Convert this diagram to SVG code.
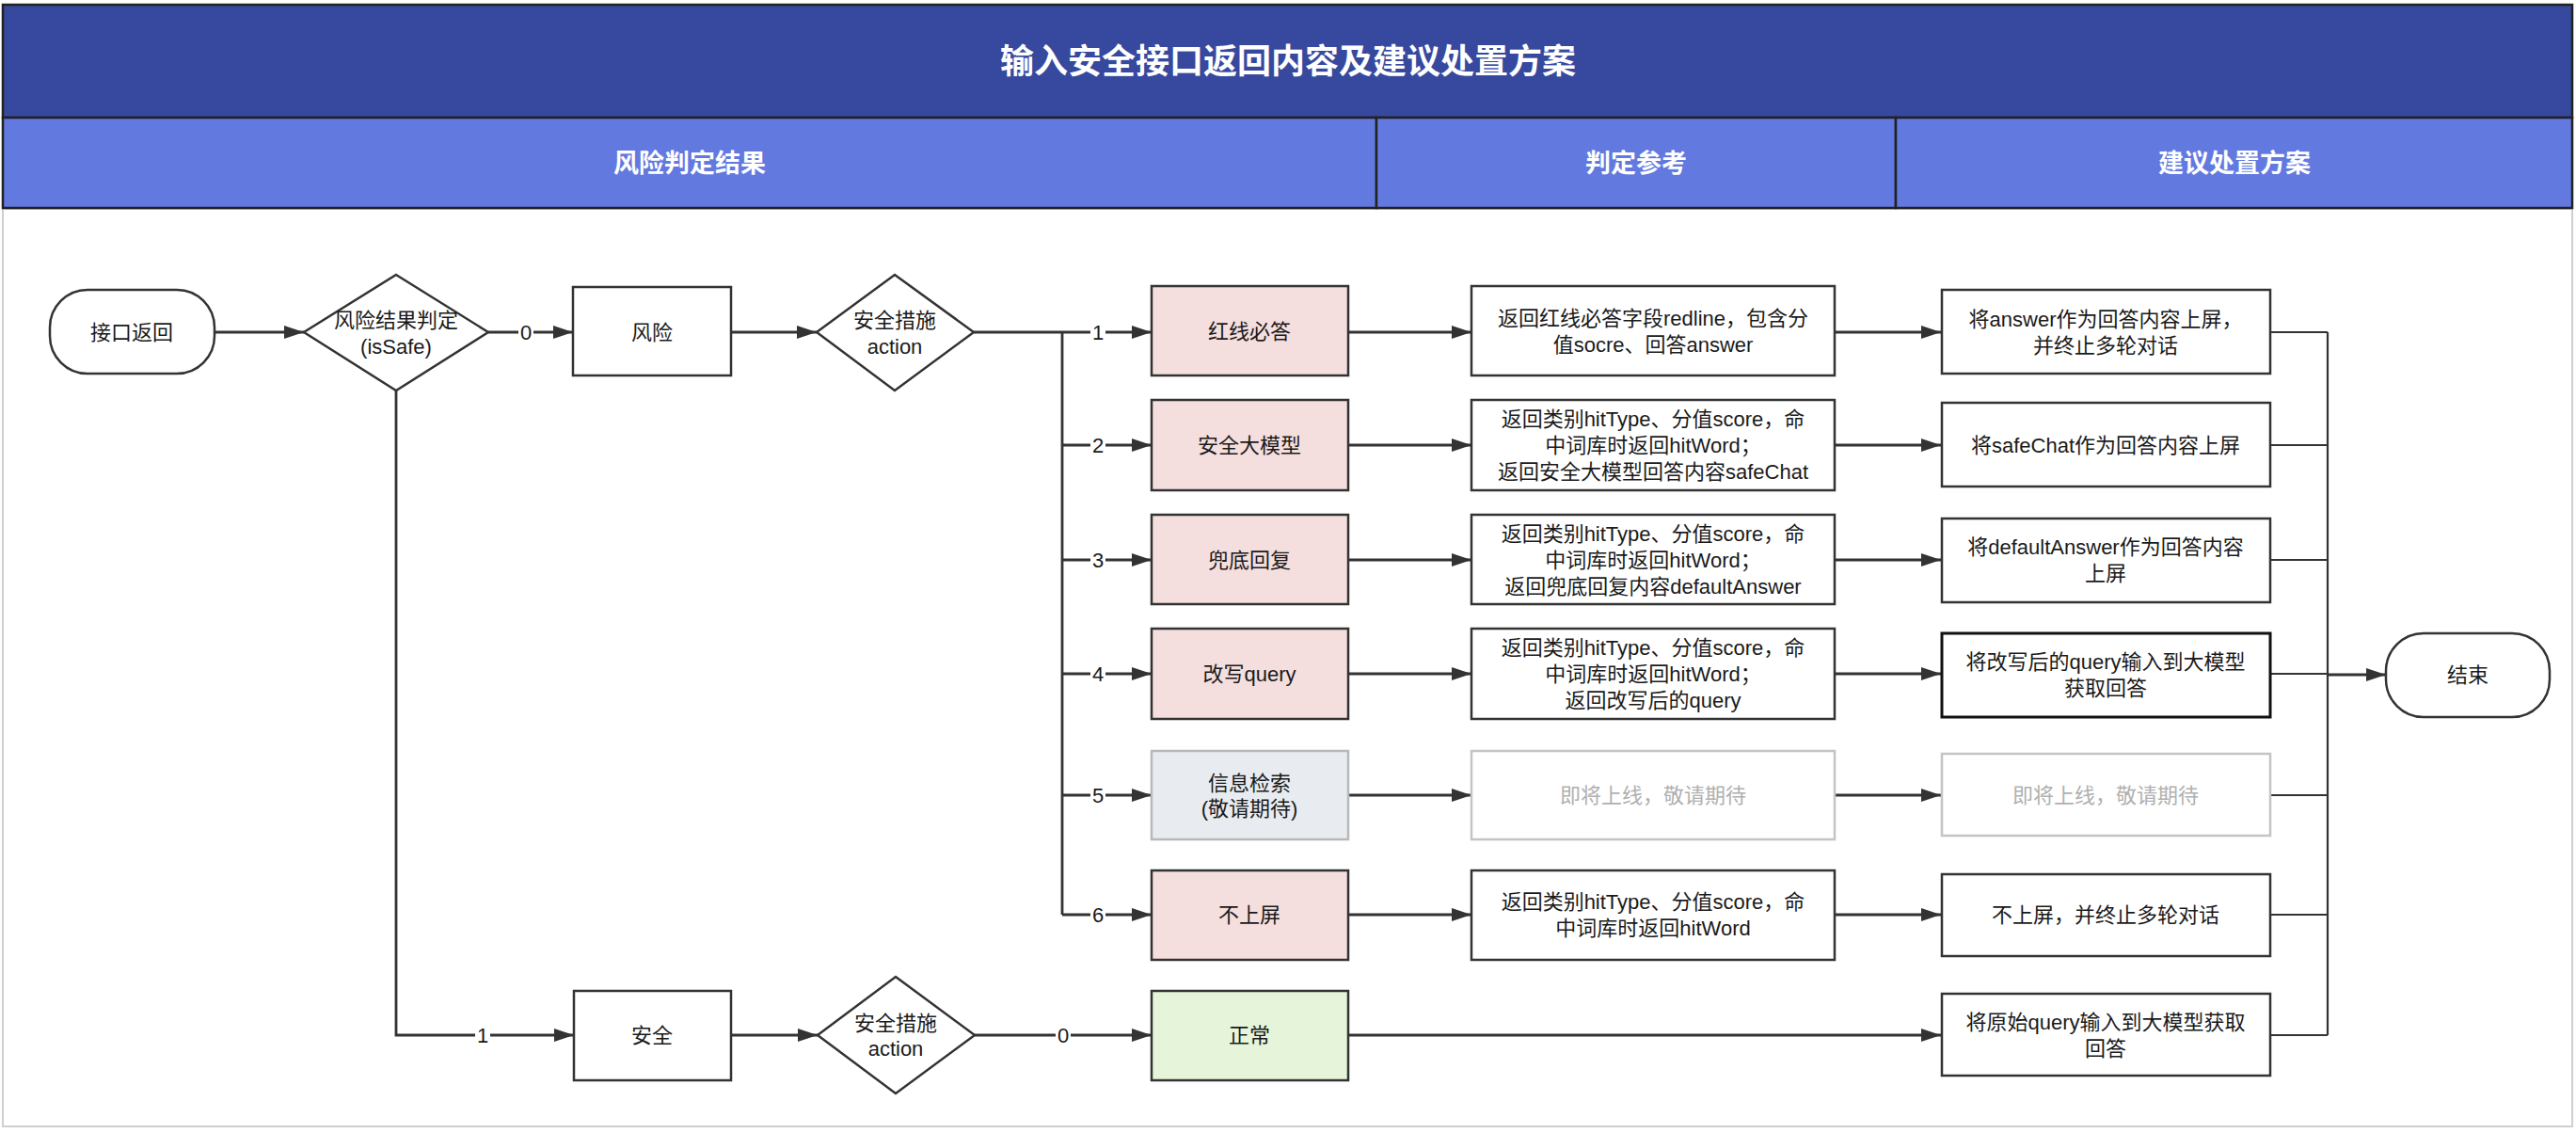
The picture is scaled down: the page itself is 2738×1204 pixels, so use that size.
<svg xmlns="http://www.w3.org/2000/svg" width="2738" height="1204" viewBox="0 0 2738 1204">
<style>
text{font-family:"Liberation Sans","Noto Sans CJK SC",sans-serif;fill:#1a1a1a;text-anchor:middle;dominant-baseline:central}
.t{font-size:36px;font-weight:bold;fill:#fff}
.h{font-size:27px;font-weight:bold;fill:#fff}
.n{font-size:22px}
.g{fill:#b0b0b0}
.box{fill:#fff;stroke:#333;stroke-width:2.5}
.pink{fill:#f5dede;stroke:#333;stroke-width:2.5}
.grey{fill:#e8ecf0;stroke:#b8b8b8;stroke-width:2.5}
.gbox{fill:#fff;stroke:#c4c4c4;stroke-width:2.5}
.green{fill:#e6f5da;stroke:#333;stroke-width:2.5}
.ln{fill:none;stroke:#333;stroke-width:2.8}
.thin{fill:none;stroke:#333;stroke-width:2.2}
.lbl{font-size:22px}
.lb{fill:#fff}
</style>
<defs>
<marker id="a" viewBox="0 0 21 14" refX="21" refY="7" markerWidth="21" markerHeight="14" orient="auto" markerUnits="userSpaceOnUse">
<path d="M0,0 L21,7 L0,14 z" fill="#333"/>
</marker>
</defs>
<rect width="2738" height="1204" fill="#fff"/>
<g id="frame">
<rect x="3" y="222" width="2731" height="975" fill="#fff" stroke="#cfcfcf" stroke-width="2"/>
<rect x="3" y="5" width="2731" height="120" fill="#36499e" stroke="#222" stroke-width="2.5"/>
<text class="t" x="1369" y="65">输入安全接口返回内容及建议处置方案</text>
<rect x="3" y="125" width="1460" height="96" fill="#6279e0" stroke="#222" stroke-width="2.5"/>
<rect x="1463" y="125" width="552" height="96" fill="#6279e0" stroke="#222" stroke-width="2.5"/>
<rect x="2015" y="125" width="719" height="96" fill="#6279e0" stroke="#222" stroke-width="2.5"/>
<text class="h" x="733" y="174">风险判定结果</text>
<text class="h" x="1739" y="174">判定参考</text>
<text class="h" x="2375" y="174">建议处置方案</text>
</g>
<g id="connectors">
<path class="ln" d="M228,353 H323" marker-end="url(#a)"/>
<path class="ln" d="M519,353 H609" marker-end="url(#a)"/>
<path class="ln" d="M777,353 H868" marker-end="url(#a)"/>
<path class="ln" d="M1035,353 H1224" marker-end="url(#a)"/>
<path class="ln" d="M1129,353 V972"/>
<path class="ln" d="M1129,473 H1224" marker-end="url(#a)"/>
<path class="ln" d="M1129,595 H1224" marker-end="url(#a)"/>
<path class="ln" d="M1129,716 H1224" marker-end="url(#a)"/>
<path class="ln" d="M1129,845 H1224" marker-end="url(#a)"/>
<path class="ln" d="M1129,972 H1224" marker-end="url(#a)"/>
<path class="ln" d="M421,415 V1100 H610" marker-end="url(#a)"/>
<path class="ln" d="M777,1100 H869" marker-end="url(#a)"/>
<path class="ln" d="M1036,1100 H1224" marker-end="url(#a)"/>
<path class="ln" d="M1433,353 H1564" marker-end="url(#a)"/>
<path class="ln" d="M1433,473 H1564" marker-end="url(#a)"/>
<path class="ln" d="M1433,595 H1564" marker-end="url(#a)"/>
<path class="ln" d="M1433,716 H1564" marker-end="url(#a)"/>
<path class="ln" d="M1433,845 H1564" marker-end="url(#a)"/>
<path class="ln" d="M1433,972 H1564" marker-end="url(#a)"/>
<path class="ln" d="M1433,1100 H2063" marker-end="url(#a)"/>
<path class="ln" d="M1950,353 H2063" marker-end="url(#a)"/>
<path class="ln" d="M1950,473 H2063" marker-end="url(#a)"/>
<path class="ln" d="M1950,595 H2063" marker-end="url(#a)"/>
<path class="ln" d="M1950,716 H2063" marker-end="url(#a)"/>
<path class="ln" d="M1950,845 H2063" marker-end="url(#a)"/>
<path class="ln" d="M1950,972 H2063" marker-end="url(#a)"/>
<path class="thin" d="M2413,353 H2474 M2413,473 H2474 M2413,595 H2474 M2413,716 H2474 M2413,845 H2474 M2413,972 H2474 M2413,1100 H2474 M2474,353 V1100"/>
<path class="ln" d="M2474,717 H2536" marker-end="url(#a)"/>
<g>
<rect class="lb" x="551" y="340" width="16" height="26"/><text class="lbl" x="559" y="353">0</text>
<rect class="lb" x="1159" y="340" width="16" height="26"/><text class="lbl" x="1167" y="353">1</text>
<rect class="lb" x="1159" y="460" width="16" height="26"/><text class="lbl" x="1167" y="473">2</text>
<rect class="lb" x="1159" y="582" width="16" height="26"/><text class="lbl" x="1167" y="595">3</text>
<rect class="lb" x="1159" y="703" width="16" height="26"/><text class="lbl" x="1167" y="716">4</text>
<rect class="lb" x="1159" y="832" width="16" height="26"/><text class="lbl" x="1167" y="845">5</text>
<rect class="lb" x="1159" y="959" width="16" height="26"/><text class="lbl" x="1167" y="972">6</text>
<rect class="lb" x="505" y="1087" width="16" height="26"/><text class="lbl" x="513" y="1100">1</text>
<rect class="lb" x="1122" y="1087" width="16" height="26"/><text class="lbl" x="1130" y="1100">0</text>
</g>
</g>
<g id="start"><rect class="box" x="53" y="308" width="175" height="89" rx="40" ry="40"/><text class="n" x="140" y="353">接口返回</text></g>
<g id="isSafe"><path class="box" d="M421,292 L519,353 L421,415 L323,353 z"/><text class="n" x="421" y="340">风险结果判定</text><text class="n" x="421" y="368">(isSafe)</text></g>
<g id="risk"><rect class="box" x="609" y="305" width="168" height="94"/><text class="n" x="693" y="353">风险</text></g>
<g id="action1"><path class="box" d="M951,292 L1035,353 L951,415 L868,353 z"/><text class="n" x="951" y="340">安全措施</text><text class="n" x="951" y="368">action</text></g>
<g id="safe"><rect class="box" x="610" y="1053" width="167" height="95"/><text class="n" x="693" y="1100">安全</text></g>
<g id="action2"><path class="box" d="M952,1038 L1036,1100 L952,1162 L869,1100 z"/><text class="n" x="952" y="1087">安全措施</text><text class="n" x="952" y="1114">action</text></g>
<g id="p1"><rect class="pink" x="1224" y="304" width="209" height="95"/><text class="n" x="1328" y="352">红线必答</text></g>
<g id="p2"><rect class="pink" x="1224" y="425" width="209" height="96"/><text class="n" x="1328" y="473">安全大模型</text></g>
<g id="p3"><rect class="pink" x="1224" y="547" width="209" height="95"/><text class="n" x="1328" y="595">兜底回复</text></g>
<g id="p4"><rect class="pink" x="1224" y="668" width="209" height="96"/><text class="n" x="1328" y="716">改写query</text></g>
<g id="p5"><rect class="grey" x="1224" y="798" width="209" height="94"/><text class="n" x="1328" y="832">信息检索</text><text class="n" x="1328" y="859">(敬请期待)</text></g>
<g id="p6"><rect class="pink" x="1224" y="925" width="209" height="95"/><text class="n" x="1328" y="972">不上屏</text></g>
<g id="p7"><rect class="green" x="1224" y="1053" width="209" height="95"/><text class="n" x="1328" y="1100">正常</text></g>
<g id="r1"><rect class="box" x="1564" y="304" width="386" height="95"/><text class="n" x="1757" y="338">返回红线必答字段redline，包含分</text><text class="n" x="1757" y="366">值socre、回答answer</text></g>
<g id="r2"><rect class="box" x="1564" y="425" width="386" height="96"/><text class="n" x="1757" y="445">返回类别hitType、分值score，命</text><text class="n" x="1757" y="473">中词库时返回hitWord；</text><text class="n" x="1757" y="501">返回安全大模型回答内容safeChat</text></g>
<g id="r3"><rect class="box" x="1564" y="547" width="386" height="95"/><text class="n" x="1757" y="567">返回类别hitType、分值score，命</text><text class="n" x="1757" y="595">中词库时返回hitWord；</text><text class="n" x="1757" y="623">返回兜底回复内容defaultAnswer</text></g>
<g id="r4"><rect class="box" x="1564" y="668" width="386" height="96"/><text class="n" x="1757" y="688">返回类别hitType、分值score，命</text><text class="n" x="1757" y="716">中词库时返回hitWord；</text><text class="n" x="1757" y="744">返回改写后的query</text></g>
<g id="r5"><rect class="gbox" x="1564" y="798" width="386" height="94"/><text class="n g" x="1757" y="845">即将上线，敬请期待</text></g>
<g id="r6"><rect class="box" x="1564" y="925" width="386" height="95"/><text class="n" x="1757" y="958">返回类别hitType、分值score，命</text><text class="n" x="1757" y="986">中词库时返回hitWord</text></g>
<g id="s1"><rect class="box" x="2064" y="308" width="349" height="89"/><text class="n" x="2238" y="339">将answer作为回答内容上屏，</text><text class="n" x="2238" y="367">并终止多轮对话</text></g>
<g id="s2"><rect class="box" x="2064" y="428" width="349" height="89"/><text class="n" x="2238" y="473">将safeChat作为回答内容上屏</text></g>
<g id="s3"><rect class="box" x="2064" y="551" width="349" height="89"/><text class="n" x="2238" y="581">将defaultAnswer作为回答内容</text><text class="n" x="2238" y="609">上屏</text></g>
<g id="s4"><rect class="box" x="2064" y="673" width="349" height="89" style="stroke:#111;stroke-width:3"/><text class="n" x="2238" y="703">将改写后的query输入到大模型</text><text class="n" x="2238" y="731">获取回答</text></g>
<g id="s5"><rect class="gbox" x="2064" y="801" width="349" height="87"/><text class="n g" x="2238" y="845">即将上线，敬请期待</text></g>
<g id="s6"><rect class="box" x="2064" y="929" width="349" height="87"/><text class="n" x="2238" y="972">不上屏，并终止多轮对话</text></g>
<g id="s7"><rect class="box" x="2064" y="1056" width="349" height="87"/><text class="n" x="2238" y="1086">将原始query输入到大模型获取</text><text class="n" x="2238" y="1114">回答</text></g>
<g id="end"><rect class="box" x="2536" y="673" width="174" height="89" rx="40" ry="40"/><text class="n" x="2623" y="717">结束</text></g>
</svg>
